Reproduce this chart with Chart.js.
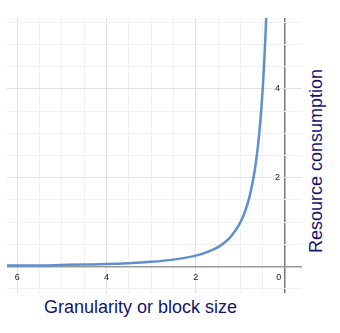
<!DOCTYPE html>
<html>
<head>
<meta charset="utf-8">
<script src="https://cdn.jsdelivr.net/npm/chart.js@4/dist/chart.umd.min.js"></script>
<style>
  body { margin: 0; background: #fff; width: 340px; height: 333px; position: relative; overflow: hidden; }
  #wrap { position: absolute; left: 7px; top: 18px; width: 295px; height: 275px; }
  .axisTitle { position: absolute; font-family: "Liberation Sans", Arial, sans-serif; font-size: 18px; line-height: 18px; color: #14146e; white-space: nowrap; }
  #xTitle { left: 44px; top: 298px; }
  #yTitle { left: 225px; top: 153px; width: 182px; text-align: center; transform: rotate(-90deg); }
</style>
</head>
<body>
<div id="wrap"><canvas id="curveCanvas" width="295" height="275"></canvas></div>
<div class="axisTitle" id="xTitle">Granularity or block size</div>
<div class="axisTitle" id="yTitle">Resource consumption</div>
<script>
// points (block size -> consumption)
const blockSize = [6.25, 6, 5.5, 5, 4.5, 4, 3.5, 3, 2.5, 2, 1.75, 1.5, 1.25, 1.1, 1, 0.9, 0.8, 0.7, 0.65, 0.6, 0.55, 0.5, 0.47, 0.44, 0.42];
const consumption = [0.03, 0.03, 0.03, 0.04, 0.05, 0.06, 0.08, 0.11, 0.16, 0.25, 0.33, 0.44, 0.64, 0.83, 1.0, 1.23, 1.56, 2.04, 2.37, 2.78, 3.31, 4.0, 4.53, 5.17, 5.67];

// labelled ticks
const xTickLabels = [0, 2, 4, 6];
const yTickLabels = [2, 4];

var points = blockSize.map((x, i) => ({ x: x, y: consumption[i] }));

// grid colour: axis line at 0, darker line every 2 units, light otherwise
function gridColor(value, axisColor) {
  if (value === 0) return axisColor;
  if (value % 2 === 0) return '#e2e2e2';
  return '#f1f1f1';
}

// axes sit inside the plot, so they should not take any layout space
function noSpace(s) {
  if (s.isHorizontal()) s.height = 0; else s.width = 0;
  s.paddingTop = s.paddingBottom = s.paddingLeft = s.paddingRight = 0;
}

var ctx = document.getElementById('curveCanvas').getContext('2d');
var chart = new Chart(ctx, {
  type: 'scatter',
  data: {
    datasets: [{
      data: points,
      showLine: true,
      borderColor: '#5f8fcf',
      borderWidth: 2.5,
      pointRadius: 0,
      cubicInterpolationMode: 'monotone'
    }]
  },
  options: {
    responsive: false,
    animation: false,
    devicePixelRatio: 1,
    layout: { padding: 0 },
    plugins: { legend: { display: false }, tooltip: { enabled: false } },
    scales: {
      x: {
        type: 'linear',
        reverse: true,
        min: -0.38,
        max: 6.23,
        position: { y: 0 },
        afterFit: noSpace,
        border: { display: false },
        grid: {
          drawTicks: false,
          color: c => gridColor(c.tick.value, '#7a7a7a'),
          lineWidth: c => c.tick.value === 0 ? 1.5 : 1
        },
        ticks: {
          stepSize: 0.5,
          includeBounds: false,
          autoSkip: false,
          maxRotation: 0,
          padding: 5,
          color: '#222',
          font: { family: 'Liberation Sans', size: 9 },
          callback: v => xTickLabels.includes(v) ? (v === 0 ? '0     ' : String(v)) : ''
        }
      },
      y: {
        type: 'linear',
        min: -0.59,
        max: 5.59,
        position: { x: 0 },
        afterFit: noSpace,
        border: { display: false },
        grid: {
          drawTicks: false,
          color: c => gridColor(c.tick.value, '#9a9a9a'),
          lineWidth: c => c.tick.value === 0 ? 1.5 : 1
        },
        ticks: {
          stepSize: 0.5,
          includeBounds: false,
          autoSkip: false,
          color: '#222',
          font: { family: 'Liberation Sans', size: 9 },
          // trailing spaces keep the right-aligned label off the axis line
          callback: v => yTickLabels.includes(v) ? v + '  ' : ''
        }
      }
    }
  }
});
</script>
</body>
</html>
